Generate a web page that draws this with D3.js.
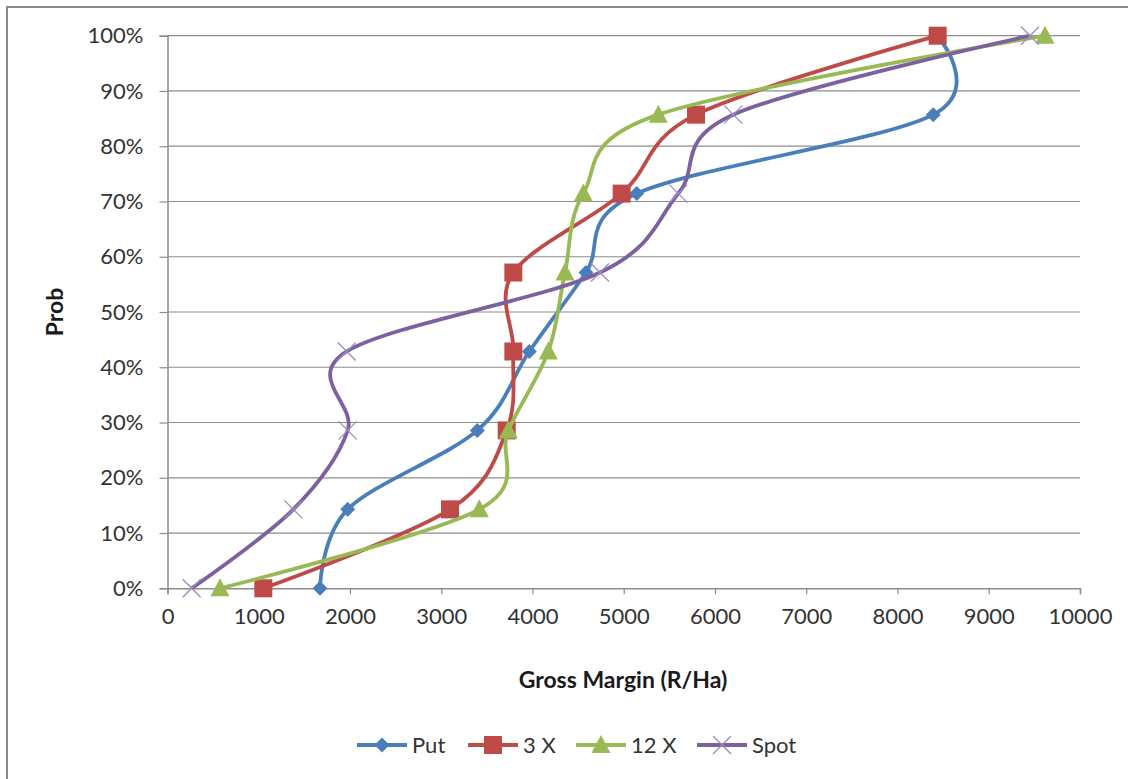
<!DOCTYPE html>
<html>
<head>
<meta charset="utf-8">
<script src="https://cdn.jsdelivr.net/npm/d3@7"></script>
<style>
  html, body { margin: 0; padding: 0; background: #fff; }
  svg { display: block; }
  text { font-family: Lato, "Open Sans", sans-serif; }
</style>
</head>
<body>
<svg id="chart" width="1128" height="779"></svg>
<script>
// Cumulative probability of gross margin for each hedging strategy
const probs = [0, 100 / 7, 200 / 7, 300 / 7, 400 / 7, 500 / 7, 600 / 7, 100];
const putValues  = [1671, 1975, 3395, 3965, 4586, 5142, 8392, 8435];
const x3Values   = [1050, 3096, 3717, 3790, 3790, 4977, 5792, 8440];
const x12Values  = [575, 3417, 3735, 4173, 4356, 4557, 5379, 9616];
const spotValues = [265, 1379, 1975, 1964, 4740, 5598, 6200, 9452];

const seriesNames = ["Put", "3 X", "12 X", "Spot"];
const xTicks = [0, 1000, 2000, 3000, 4000, 5000, 6000, 7000, 8000, 9000, 10000];
const yTicks = [0, 10, 20, 30, 40, 50, 60, 70, 80, 90, 100];

const styles = [
  { color: "#4A7EBB", marker: "diamond" },
  { color: "#BE4B48", marker: "square" },
  { color: "#98B954", marker: "triangle" },
  { color: "#7D60A0", marker: "cross" }
];
const seriesValues = [putValues, x3Values, x12Values, spotValues];

const svg = d3.select("#chart");
const plot = { left: 167.5, right: 1080, top: 35.7, bottom: 588.3 };

const x = d3.scaleLinear().domain([0, 10000]).range([plot.left, plot.right]);
const y = d3.scaleLinear().domain([0, 100]).range([plot.bottom, plot.top]);

// outer chart frame
svg.append("rect")
  .attr("x", 7).attr("y", 7).attr("width", 1140).attr("height", 790)
  .attr("fill", "none").attr("stroke", "#8a8a8a").attr("stroke-width", 2);

// horizontal gridlines
svg.append("g").selectAll("line").data(yTicks.filter(d => d > 0)).join("line")
  .attr("x1", plot.left).attr("x2", plot.right)
  .attr("y1", d => y(d)).attr("y2", d => y(d))
  .attr("stroke", "#8c8c8c").attr("stroke-width", 1.2);

// y axis
const yAxis = d3.axisLeft(y).tickValues(yTicks).tickFormat(d => d + "%")
  .tickSize(8).tickPadding(16);
const gy = svg.append("g").attr("transform", `translate(${plot.left},0)`).call(yAxis);
gy.select(".domain").attr("stroke", "#8c8c8c").attr("stroke-width", 1.5);
gy.selectAll(".tick line").attr("stroke", "#8c8c8c").attr("stroke-width", 1.2);
gy.selectAll(".tick text").attr("font-size", 22).attr("fill", "#333")
  .attr("font-family", "Lato, sans-serif");

// x axis
const xAxis = d3.axisBottom(x).tickValues(xTicks).tickFormat(d3.format("d"))
  .tickSize(6).tickPadding(14);
const gx = svg.append("g").attr("transform", `translate(0,${plot.bottom})`).call(xAxis);
gx.select(".domain").attr("stroke", "#8c8c8c").attr("stroke-width", 1.5);
gx.selectAll(".tick line").attr("stroke", "#8c8c8c").attr("stroke-width", 1.2);
gx.selectAll(".tick text").attr("font-size", 22).attr("fill", "#333")
  .attr("font-family", "Lato, sans-serif");

// axis titles
svg.append("text")
  .attr("x", 623).attr("y", 688)
  .attr("text-anchor", "middle").attr("font-size", 23).attr("font-weight", "bold")
  .attr("fill", "#1a1a1a")
  .text("Gross Margin (R/Ha)");

svg.append("text")
  .attr("transform", "translate(63,312) rotate(-90)")
  .attr("text-anchor", "middle").attr("font-size", 23).attr("font-weight", "bold")
  .attr("fill", "#1a1a1a")
  .text("Prob");

// marker drawing
function drawMarker(g, type, color, cx, cy) {
  if (type === "diamond") {
    g.append("path")
      .attr("d", `M${cx},${cy - 7.5}L${cx + 7.5},${cy}L${cx},${cy + 7.5}L${cx - 7.5},${cy}Z`)
      .attr("fill", color);
  } else if (type === "square") {
    g.append("rect")
      .attr("x", cx - 9).attr("y", cy - 9).attr("width", 18).attr("height", 18)
      .attr("fill", color);
  } else if (type === "triangle") {
    g.append("path")
      .attr("d", `M${cx},${cy - 10}L${cx + 9.5},${cy + 8}L${cx - 9.5},${cy + 8}Z`)
      .attr("fill", color);
  } else {
    g.append("path")
      .attr("d", `M${cx - 9},${cy - 9}L${cx + 9},${cy + 9}M${cx - 9},${cy + 9}L${cx + 9},${cy - 9}`)
      .attr("stroke", "#9a8cc0").attr("stroke-width", 1.3).attr("fill", "none");
  }
}

// smoothed series lines with markers
const line = d3.line()
  .x(d => x(d[0])).y(d => y(d[1]))
  .curve(d3.curveCardinal.tension(0));

seriesValues.forEach((vals, i) => {
  const pts = vals.map((v, j) => [v, probs[j]]);
  const g = svg.append("g");
  g.append("path").datum(pts)
    .attr("d", line)
    .attr("fill", "none")
    .attr("stroke", styles[i].color)
    .attr("stroke-width", 3.8)
    .attr("stroke-linejoin", "round");
  pts.forEach(p => drawMarker(g, styles[i].marker, styles[i].color, x(p[0]), y(p[1])));
});

// legend
const legendX = [357, 468, 576, 697];
const legendY = 745;
seriesNames.forEach((name, i) => {
  const g = svg.append("g");
  const lx = legendX[i];
  g.append("line")
    .attr("x1", lx).attr("x2", lx + 50)
    .attr("y1", legendY).attr("y2", legendY)
    .attr("stroke", styles[i].color).attr("stroke-width", 3.8);
  drawMarker(g, styles[i].marker, styles[i].color, lx + 25, legendY);
  g.append("text")
    .attr("x", lx + 55).attr("y", legendY + 8)
    .attr("font-size", 22).attr("fill", "#333")
    .text(name);
});
</script>
</body>
</html>
